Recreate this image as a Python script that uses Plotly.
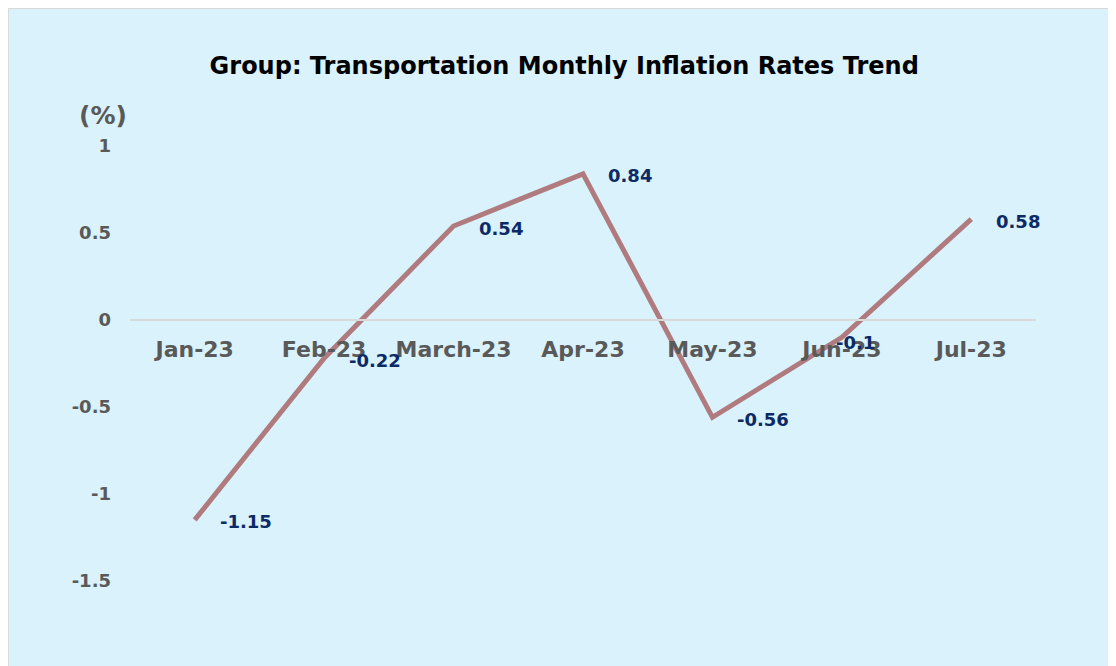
"""Transportation group monthly inflation trend, line chart."""

import plotly.graph_objects as go

MONTHS = ["Jan-23", "Feb-23", "March-23", "Apr-23", "May-23", "Jun-23", "Jul-23"]
RATES = [-1.15, -0.22, 0.54, 0.84, -0.56, -0.1, 0.58]
Y_TICKS = [1, 0.5, 0, -0.5, -1, -1.5]
Y_TICK_LABELS = ["1", "0.5", "0", "-0.5", "-1", "-1.5"]

BG = "#DAF2FC"
LINE = "#B07B7F"
LABEL = "#0B2A66"
AXIS_TEXT = "#595959"
FONT = "DejaVu Sans"

Y_RANGE = [-1.99, 1.0]
# paper fraction where y = 0 sits, so the category axis crosses there
ZERO_POS = (0 - Y_RANGE[0]) / (Y_RANGE[1] - Y_RANGE[0])

fig = go.Figure(
    go.Scatter(
        x=MONTHS,
        y=RATES,
        mode="lines",
        line={"color": LINE, "width": 5},
        hovertemplate="%{x}<br>%{y}<extra></extra>",
    )
)

# data labels, mostly to the right of each point
for month, rate in zip(MONTHS, RATES):
    special = month == "Jun-23"
    fig.add_annotation(
        x=month,
        y=rate,
        text="<b>{}</b>".format(rate),
        showarrow=False,
        xanchor="center" if special else "left",
        xshift=14 if special else 23,
        yshift=-5 if special else -2,
        font={"family": FONT, "size": 18, "color": LABEL},
    )

fig.add_annotation(
    x=0.0,
    y=1.0,
    xref="paper",
    yref="paper",
    xanchor="center",
    yanchor="middle",
    text="<b>(%)</b>",
    showarrow=False,
    xshift=-27,
    yshift=31,
    font={"family": FONT, "size": 25, "color": AXIS_TEXT},
)

# gray frame on the left and top of the chart area
fig.add_shape(
    type="rect",
    xref="paper",
    yref="paper",
    x0=-0.1347,
    x1=1.2,
    y0=-0.2,
    y1=1.2654,
    line={"color": "#D9D9D9", "width": 2},
    layer="below",
)

fig.update_layout(
    width=1108,
    height=658,
    title={
        "text": "<b>Group: Transportation Monthly Inflation Rates Trend</b>",
        "x": 0.502,
        "xanchor": "center",
        "y": 0.912,
        "yanchor": "middle",
        "font": {"family": FONT, "size": 24, "color": "#000000"},
    },
    margin={"l": 122, "r": 80, "t": 138, "b": 0},
    paper_bgcolor=BG,
    plot_bgcolor="rgba(0,0,0,0)",
    showlegend=False,
    font={"family": FONT},
)
fig.update_xaxes(
    type="category",
    range=[-0.5, len(MONTHS) - 0.5],
    anchor="free",
    position=ZERO_POS,
    showline=True,
    linecolor="#D9D9D9",
    linewidth=2,
    showgrid=False,
    ticks="",
    ticklabelstandoff=10,
    tickfont={"family": FONT, "size": 22, "color": AXIS_TEXT, "weight": "bold"},
)
fig.update_yaxes(
    range=Y_RANGE,
    tickvals=Y_TICKS,
    ticktext=Y_TICK_LABELS,
    showgrid=False,
    zeroline=False,
    ticklabelstandoff=18,
    tickfont={"family": FONT, "size": 18, "color": AXIS_TEXT, "weight": "bold"},
)

fig.write_html("out.html")
